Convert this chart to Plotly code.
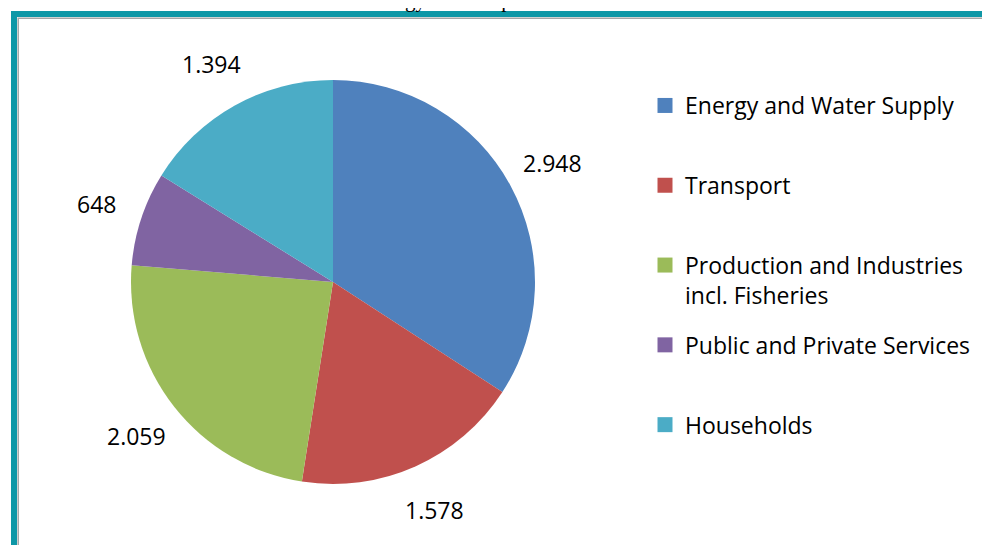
import math
import plotly.graph_objects as go

sectors = ["Energy and Water Supply", "Transport", "Production and Industries<br>incl. Fisheries",
           "Public and Private Services", "Households"]
consumption = [2948, 1578, 2059, 648, 1394]
value_labels = ["2.948", "1.578", "2.059", "648", "1.394"]
colors = ["#4F81BD", "#C0504D", "#9BBB59", "#8064A2", "#4BACC6"]

W, H = 990, 545
FONT = "Open Sans"

# pie placement in pixels (the page adds an 8px body margin)
cx, cy, r = 325, 274, 202

fig = go.Figure()
fig.add_trace(go.Pie(
    labels=sectors,
    values=consumption,
    textinfo="none",
    marker=dict(colors=colors, line=dict(width=0)),
    sort=False,
    direction="clockwise",
    rotation=0,
    showlegend=False,
    domain=dict(x=[(cx - r) / W, (cx + r) / W], y=[1 - (cy + r) / H, 1 - (cy - r) / H]),
    hoverinfo="label+value",
))

# legend entries, each padded to two lines so the spacing is even
for i, s in enumerate(sectors):
    name = s if "<br>" in s else s + "<br> "
    fig.add_trace(go.Scatter(
        x=[None], y=[None], mode="markers", name=name,
        marker=dict(symbol="square", size=15, color=colors[i], line=dict(width=0)),
        legendgroup="g%d" % i, hoverinfo="skip",
    ))

# data labels outside the slices, at the middle angle of each slice
total = sum(consumption)
annotations = []
cum = 0
for v, lab in zip(consumption, value_labels):
    mid = (cum + v / 2) / total * 2 * math.pi
    cum += v
    d = r * 1.235
    px = cx + d * math.sin(mid)
    py = cy - d * math.cos(mid)
    annotations.append(dict(text=lab, x=px / W, y=1 - py / H, xref="paper", yref="paper",
                            showarrow=False, xanchor="center", yanchor="middle",
                            font=dict(family=FONT, size=23, color="black")))

annotations.append(dict(text="Source: Statistics Greenland: Greenland's Energy Consumption 2015.",
                        xref="paper", yref="paper", x=2 / W, y=1 - 6 / H,
                        xanchor="left", yanchor="bottom", showarrow=False,
                        font=dict(family="Liberation Serif", size=21, color="black")))

fig.update_layout(
    width=W, height=H,
    margin=dict(l=0, r=0, t=0, b=0),
    paper_bgcolor="white",
    plot_bgcolor="white",
    xaxis=dict(visible=False),
    yaxis=dict(visible=False),
    showlegend=True,
    legend=dict(
        x=637 / W, y=1 - 76 / H, xanchor="left", yanchor="top",
        font=dict(family=FONT, size=23, color="black"),
        valign="top", itemsizing="trace", traceorder="grouped",
        tracegroupgap=17, itemclick=False,
    ),
    shapes=[
        dict(type="rect", xref="paper", yref="paper",
             x0=6 / W, x1=1.05, y0=-0.05, y1=1 - 6 / H,
             line=dict(color="#0E97A6", width=6), fillcolor="rgba(0,0,0,0)"),
        dict(type="rect", xref="paper", yref="paper",
             x0=10.2 / W, x1=1.05, y0=-0.05, y1=1 - 10.2 / H,
             line=dict(color="#A6A6A6", width=1.5), fillcolor="rgba(0,0,0,0)"),
    ],
    annotations=annotations,
)

fig.write_html("out.html")
